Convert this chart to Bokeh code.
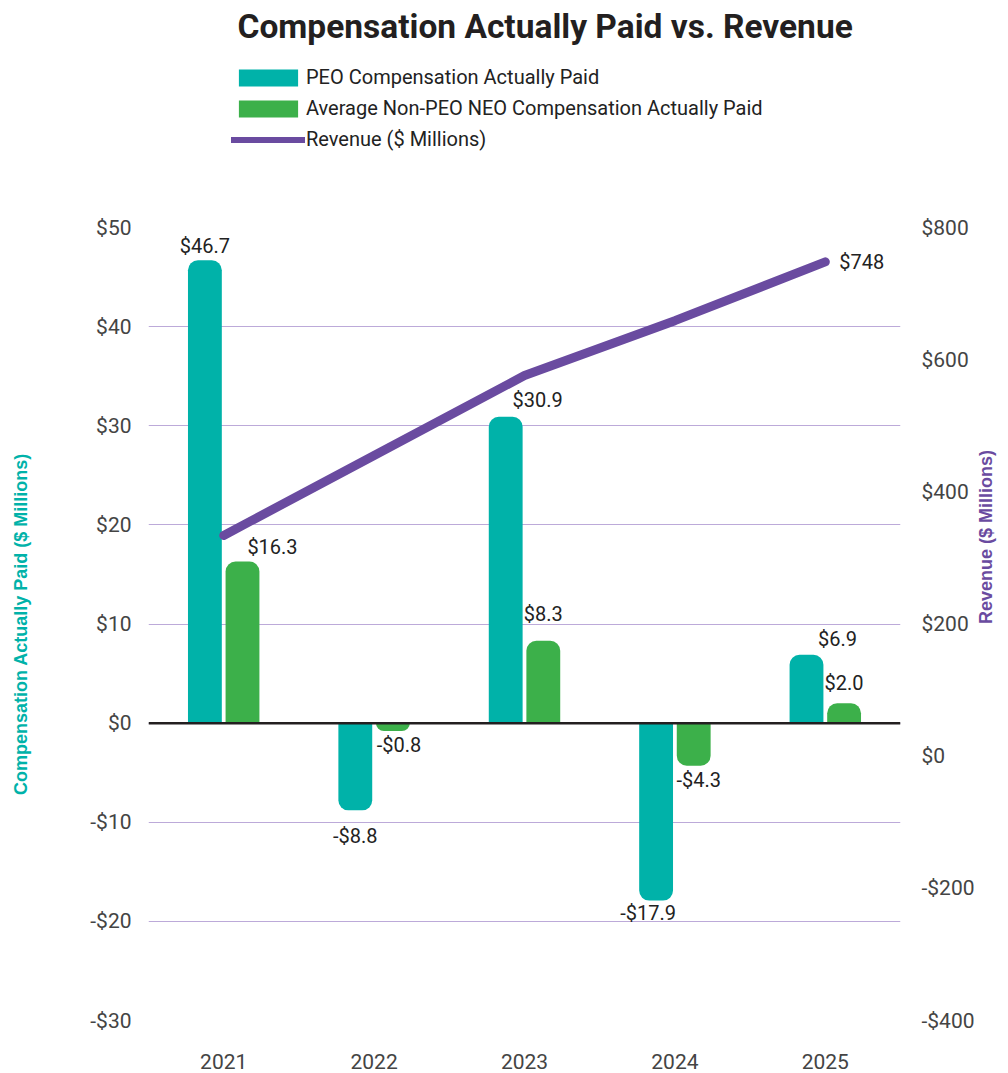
import math
from bokeh.plotting import figure
from bokeh.layouts import column
from bokeh.models import (ColumnDataSource, Range1d, FactorRange, LinearAxis, FixedTicker,
                          Span, LabelSet, Legend, LegendItem)
from bokeh.transform import dodge
from bokeh.embed import file_html
from bokeh.resources import INLINE
from bokeh.core.properties import value

# ---------------- data ----------------
years = ["2021", "2022", "2023", "2024", "2025"]
peo_cap = [46.7, -8.8, 30.9, -17.9, 6.9]
neo_cap = [16.3, -0.8, 8.3, -4.3, 2.0]
revenue = [334, 455, 576, 659, 748]

left_ticks = [-30, -20, -10, 0, 10, 20, 30, 40, 50]
left_tick_labels = ["-$30", "-$20", "-$10", "$0", "$10", "$20", "$30", "$40", "$50"]
right_ticks = [-400, -200, 0, 200, 400, 600, 800]
right_tick_labels = ["-$400", "-$200", "$0", "$200", "$400", "$600", "$800"]

series_names = ["PEO Compensation Actually Paid",
                "Average Non-PEO NEO Compensation Actually Paid",
                "Revenue ($ Millions)"]

# label placement (styling, pixels)
peo_label_dx = [0, 0, 32, -8, 31]
peo_label_dy = [14, -26, 17, -12, 16]
neo_label_dx = [30, 6, 0, 5, 0]
neo_label_dy = [15, -14, 27, -14, 20]

TEAL = "#00b2a9"
GREEN = "#3cb04a"
PURPLE = "#6a4ba0"
GRID = "#bcaad9"
TXT = "#222222"
TICK = "#444444"
TICK_SIZE = "21px"


def money(v, nd=1):
    s = f"${abs(v):.{nd}f}"
    return "-" + s if v < 0 else s


def split(vals):
    pos = dict(year=[y for y, v in zip(years, vals) if v >= 0],
               top=[v for v in vals if v >= 0],
               bottom=[0 for v in vals if v >= 0])
    neg = dict(year=[y for y, v in zip(years, vals) if v < 0],
               top=[0 for v in vals if v < 0],
               bottom=[v for v in vals if v < 0])
    return ColumnDataSource(pos), ColumnDataSource(neg)


peo_pos, peo_neg = split(peo_cap)
neo_pos, neo_neg = split(neo_cap)
rev_src = ColumnDataSource(dict(year=years, rev=revenue))

# ================= header: title + legend =================
# (its value range lies outside the data, so its renderers only feed the legend)
h = figure(width=1008, height=212, output_backend="svg", toolbar_location=None,
           x_range=FactorRange(factors=years, range_padding=0), y_range=Range1d(100, 200),
           x_axis_type=None, y_axis_type=None,
           min_border_left=148, min_border_right=98, min_border_top=0, min_border_bottom=0)
h.outline_line_color = None
h.grid.visible = False
h.title.text = "Compensation Actually Paid vs. Revenue"
h.title.text_font = "Roboto"
h.title.text_font_style = "bold"
h.title.text_font_size = "33.5px"
h.title.text_color = "#231f20"
h.title.align = "left"
h.title.offset = 89
h.title.standoff = 8

k_peo = h.vbar(x="year", top="top", bottom="bottom", width=0.2, source=peo_pos,
               fill_color=TEAL, line_color=None)
k_neo = h.vbar(x="year", top="top", bottom="bottom", width=0.2, source=neo_pos,
               fill_color=GREEN, line_color=None)
k_rev = h.line(x="year", y="rev", source=rev_src, line_color=PURPLE, line_width=6,
               line_cap="round")
legend = Legend(items=[LegendItem(label=series_names[0], renderers=[k_peo]),
                       LegendItem(label=series_names[1], renderers=[k_neo]),
                       LegendItem(label=series_names[2], renderers=[k_rev])],
                location=(83, 61), orientation="vertical", glyph_width=74, glyph_height=21,
                label_standoff=1, spacing=7, padding=0, margin=0,
                border_line_color=None, background_fill_alpha=0,
                label_text_font="Roboto", label_text_font_size="20px",
                label_text_color=TXT, label_height=20)
h.add_layout(legend)

# ================= main chart =================
p = figure(width=1008, height=861, output_backend="svg", toolbar_location=None, title=None,
           x_range=FactorRange(factors=years, range_padding=0),
           y_range=Range1d(-30, 50),
           min_border_left=148, min_border_right=98, min_border_top=15, min_border_bottom=53)
p.extra_y_ranges = {"rev": Range1d(-400, 800)}
p.outline_line_color = None
p.background_fill_color = "white"

# grid
p.xgrid.grid_line_color = None
p.ygrid.ticker = FixedTicker(ticks=left_ticks)
p.ygrid.grid_line_color = GRID
p.ygrid.grid_line_width = 1

# left axis
ya = p.yaxis[0]
ya.ticker = FixedTicker(ticks=left_ticks)
ya.major_label_overrides = dict(zip(left_ticks, left_tick_labels))
ya.axis_line_color = None
ya.major_tick_line_color = None
ya.minor_tick_line_color = None
ya.major_label_standoff = 11
ya.major_label_text_font = "Roboto"
ya.major_label_text_font_size = TICK_SIZE
ya.major_label_text_color = TICK
ya.axis_label = "Compensation Actually Paid ($ Millions)"
ya.axis_label_text_font = "Liberation Sans"
ya.axis_label_text_font_style = "bold"
ya.axis_label_text_font_size = "18px"
ya.axis_label_text_color = TEAL
ya.axis_label_standoff = 56

# right axis
ra = LinearAxis(y_range_name="rev", ticker=FixedTicker(ticks=right_ticks))
ra.major_label_overrides = dict(zip(right_ticks, right_tick_labels))
ra.axis_line_color = None
ra.major_tick_line_color = None
ra.minor_tick_line_color = None
ra.major_label_standoff = 15
ra.major_label_text_font = "Roboto"
ra.major_label_text_font_size = TICK_SIZE
ra.major_label_text_color = TICK
ra.axis_label = "Revenue ($ Millions)"
ra.axis_label_text_font = "Liberation Sans"
ra.axis_label_text_font_style = "bold"
ra.axis_label_text_font_size = "18px"
ra.axis_label_text_color = PURPLE
ra.axis_label_standoff = 8
if "axis_label_orientation" in ra.properties():
    ra.axis_label_orientation = math.pi / 2
p.add_layout(ra, "right")

# x axis
xa = p.xaxis[0]
xa.axis_line_color = None
xa.major_tick_line_color = None
xa.minor_tick_line_color = None
xa.major_label_standoff = 27
xa.major_label_text_font = "Roboto"
xa.major_label_text_font_size = TICK_SIZE
xa.major_label_text_color = TICK

# bars
BW = 0.225
R = 10
p.vbar(x=dodge("year", -0.125, range=p.x_range), top="top", bottom="bottom", width=BW,
       source=peo_pos, fill_color=TEAL, line_color=None, border_radius=(R, R, 0, 0))
p.vbar(x=dodge("year", -0.125, range=p.x_range), top="top", bottom="bottom", width=BW,
       source=peo_neg, fill_color=TEAL, line_color=None, border_radius=(0, 0, R, R))
p.vbar(x=dodge("year", 0.125, range=p.x_range), top="top", bottom="bottom", width=BW,
       source=neo_pos, fill_color=GREEN, line_color=None, border_radius=(R, R, 0, 0))
p.vbar(x=dodge("year", 0.125, range=p.x_range), top="top", bottom="bottom", width=BW,
       source=neo_neg, fill_color=GREEN, line_color=None, border_radius=(0, 0, R, R))

# zero line
p.add_layout(Span(location=0, dimension="width", line_color="#231f20", line_width=2.5))

# revenue line
p.line(x="year", y="rev", source=rev_src, y_range_name="rev", line_color=PURPLE,
       line_width=9, line_cap="round", line_join="round")

# data labels
peo_lab = ColumnDataSource(dict(year=years, y=peo_cap, text=[money(v) for v in peo_cap],
                                dx=peo_label_dx, dy=peo_label_dy))
neo_lab = ColumnDataSource(dict(year=years, y=neo_cap, text=[money(v) for v in neo_cap],
                                dx=neo_label_dx, dy=neo_label_dy))
for src, off in ((peo_lab, -0.125), (neo_lab, 0.125)):
    p.add_layout(LabelSet(x=dodge("year", off, range=p.x_range), y="y", text="text", source=src,
                          x_offset="dx", y_offset="dy", text_align="center", text_baseline="middle",
                          text_font=value("Roboto"), text_font_size="20px", text_color=TXT))

rev_lab = ColumnDataSource(dict(year=years[-1:], y=revenue[-1:],
                                text=[money(v, 0) for v in revenue[-1:]]))
p.add_layout(LabelSet(x="year", y="y", y_range_name="rev", text="text", source=rev_lab,
                      x_offset=14, y_offset=0, text_align="left", text_baseline="middle",
                      text_font=value("Roboto"), text_font_size="20px", text_color=TXT))

layout = column(h, p, spacing=0)
open("out.html", "w").write(file_html(layout, INLINE))
